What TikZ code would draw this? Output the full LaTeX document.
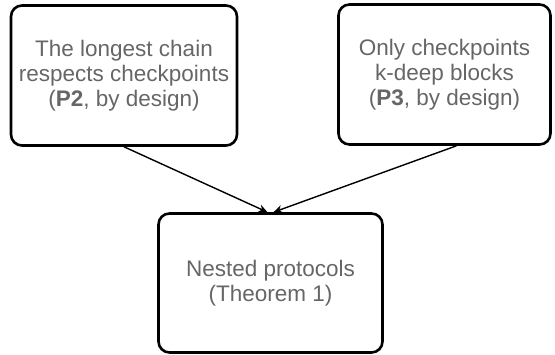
\documentclass[tikz,border=0pt]{standalone}
\usepackage{fontspec}
\setmainfont{Liberation Sans}
\usetikzlibrary{arrows.meta,positioning}

\begin{document}
\begin{tikzpicture}[
        x=1pt, y=1pt,
        claim/.style={
            draw, line width=2.6pt, rounded corners=11pt,
            align=center, text=black!60,
            font=\fontsize{22.5}{25}\selectfont,
        },
        implies/.style={
            draw, line width=1.4pt,
            -{Stealth[length=9pt,width=8pt]},
        },
    ]
    \useasboundingbox (0,0) rectangle (555,355);
    % the two properties
    \node[claim, minimum width=226pt, minimum height=140pt] (longest) at (124,279.5)
        {The longest chain\\respects checkpoints\\(\textbf{P2}, by design)};
    \node[claim, minimum width=212pt, minimum height=140pt] (kdeep) at (444.5,280.5)
        {Only checkpoints\\k-deep blocks\\(\textbf{P3}, by design)};
    % the result
    \node[claim, minimum width=224pt, minimum height=139pt] (nested) at (270.5,72)
        {Nested protocols\\(Theorem 1)};
    \draw[implies] (longest.south) -- ([xshift=-3pt]nested.north);
    \draw[implies] ([xshift=12pt]kdeep.south) -- ([xshift=3pt]nested.north);
\end{tikzpicture}
\end{document}
